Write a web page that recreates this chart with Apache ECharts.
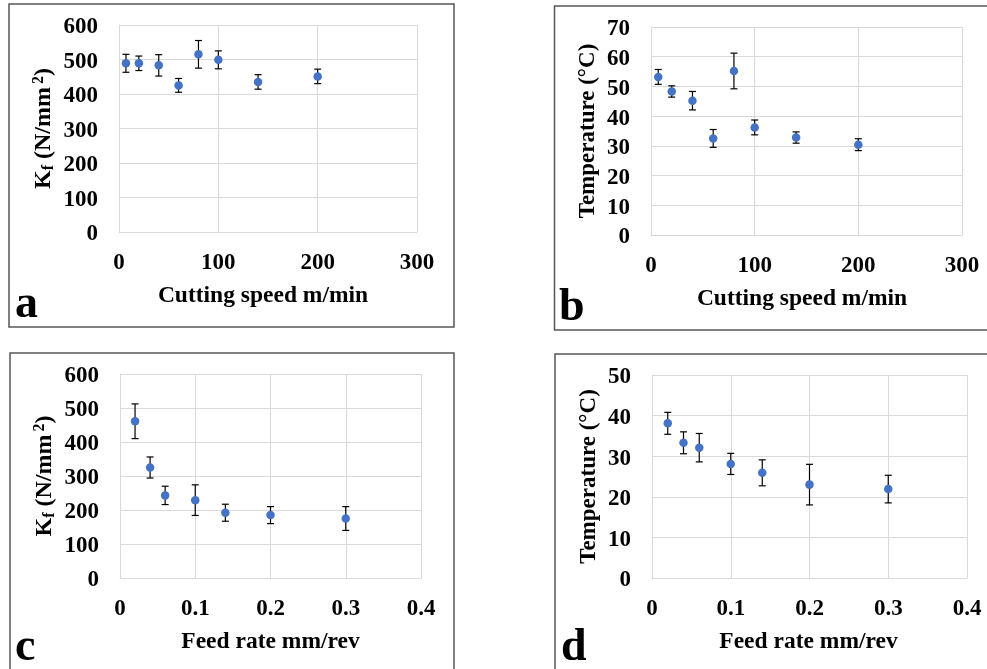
<!DOCTYPE html>
<html>
<head>
<meta charset="utf-8">
<script src="https://cdn.jsdelivr.net/npm/echarts@6/dist/echarts.min.js"></script>
<style>
html,body{margin:0;padding:0;background:#fff;}
#c{width:987px;height:669px;}
</style>
</head>
<body>
<div id="c"></div>
<script>
// ---- data ----
const xSpeed = [7, 20, 40, 60, 80, 100, 140, 200];
const kfSpeed = [489, 489, 483, 425, 515, 499, 435, 451];
const kfSpeedErr = [26, 21, 31, 20, 40, 26, 21, 21];
const tempSpeed = [53.2, 48.3, 45.2, 32.5, 55.2, 36.2, 32.8, 30.4];
const tempSpeedErr = [2.5, 1.9, 3.1, 3.0, 6.0, 2.5, 1.9, 2.0];

const xFeed = [0.02, 0.04, 0.06, 0.1, 0.14, 0.2, 0.3];
const kfFeed = [461, 325, 243, 229, 192, 185, 175];
const kfFeedErr = [51, 31, 27, 45, 25, 25, 35];
const tempFeed = [38.1, 33.3, 32.1, 28.1, 25.9, 23.0, 21.9];
const tempFeedErr = [2.7, 2.7, 3.5, 2.6, 3.2, 5.0, 3.4];

const xSpeedAxis = {min: 0, max: 300, interval: 100};
const xFeedAxis = {min: 0, max: 0.4, interval: 0.1};
const kfAxis = {min: 0, max: 600, interval: 100};
const tempSpeedAxis = {min: 0, max: 70, interval: 10};
const tempFeedAxis = {min: 0, max: 50, interval: 10};

const xTitleSpeed = 'Cutting speed m/min';
const xTitleFeed = 'Feed rate mm/rev';
const tempTitle = 'Temperature (°C)';
const panelLetters = ['a', 'b', 'c', 'd'];

// ---- styling ----
const FONT = "'Liberation Serif', 'Times New Roman', serif";
const GRIDC = '#d9d9d9';
const DOT = '#4472C4';

const chart = echarts.init(document.getElementById('c'), null, {renderer: 'canvas'});

const grids = [
  {left: 119, top: 25, width: 298, height: 207},
  {left: 651, top: 27, width: 311, height: 208},
  {left: 120, top: 374, width: 301, height: 204},
  {left: 652, top: 375, width: 315, height: 203}
];

function xAxisOf(idx, ax, title, shiftLeft) {
  return Object.assign({
    gridIndex: idx, type: 'value',
    name: title, nameLocation: 'middle', nameGap: 52,
    nameTextStyle: {fontFamily: FONT, fontWeight: 'bold', fontSize: 23.5, color: '#000',
      padding: [0, shiftLeft * 2, 0, 0]},
    axisLine: {show: true, lineStyle: {color: GRIDC, width: 1}},
    axisTick: {show: false},
    axisLabel: {fontFamily: FONT, fontWeight: 'bold', fontSize: 23, color: '#000', margin: 20},
    splitLine: {show: true, lineStyle: {color: GRIDC, width: 1}}
  }, ax);
}
function yAxisOf(idx, ax, name, gap, rich) {
  const o = Object.assign({
    gridIndex: idx, type: 'value',
    name: name, nameLocation: 'middle', nameGap: gap,
    nameTextStyle: {fontFamily: FONT, fontWeight: 'bold', fontSize: 23, color: '#000'},
    axisLine: {show: true, lineStyle: {color: GRIDC, width: 1}},
    axisTick: {show: false},
    axisLabel: {fontFamily: FONT, fontWeight: 'bold', fontSize: 23, color: '#000', margin: 21,
      verticalAlign: 'top', lineHeight: 5},
    splitLine: {show: true, lineStyle: {color: GRIDC, width: 1}}
  }, ax);
  if (rich) o.nameTextStyle.rich = rich;
  return o;
}

const kfRich = {
  n: {fontFamily: FONT, fontWeight: 'bold', fontSize: 24, color: '#000'},
  sub: {fontFamily: FONT, fontWeight: 'bold', fontSize: 16, color: '#000', padding: [10, 0, 0, 0]},
  sup: {fontFamily: FONT, fontWeight: 'bold', fontSize: 16, color: '#000', padding: [0, 0, 10, 3]}
};
const kfName = '{n|K}{sub|f}{n| (N/mm}{sup|2}{n|)}';

function errSeries(idx, xs, ys, es) {
  return {
    type: 'custom', xAxisIndex: idx, yAxisIndex: idx, z: 2,
    data: xs.map((x, i) => [x, ys[i], es[i]]),
    renderItem: function (params, api) {
      const x = api.value(0), y = api.value(1), e = api.value(2);
      const t = api.coord([x, y + e]);
      const b = api.coord([x, y - e]);
      const w = 3.5;
      const st = {stroke: '#000', lineWidth: 1.2};
      return {
        type: 'group',
        children: [
          {type: 'line', shape: {x1: t[0], y1: t[1], x2: b[0], y2: b[1]}, style: st},
          {type: 'line', shape: {x1: t[0] - w, y1: t[1], x2: t[0] + w, y2: t[1]}, style: st},
          {type: 'line', shape: {x1: b[0] - w, y1: b[1], x2: b[0] + w, y2: b[1]}, style: st}
        ]
      };
    }
  };
}
function dotSeries(idx, xs, ys) {
  return {
    type: 'scatter', xAxisIndex: idx, yAxisIndex: idx, z: 3,
    symbolSize: 8.5, itemStyle: {color: DOT, opacity: 1},
    data: xs.map((x, i) => [x, ys[i]])
  };
}

const borders = [
  {x: 9, y: 4, w: 445, h: 323},
  {x: 554.5, y: 6, w: 445, h: 324},
  {x: 10, y: 353, w: 444, h: 330},
  {x: 555, y: 354, w: 445, h: 330}
];
const letterPos = [[15, 305], [559, 308], [15, 648], [561, 648]];

const graphic = [];
borders.forEach(b => graphic.push({
  type: 'rect', shape: {x: b.x, y: b.y, width: b.w, height: b.h},
  style: {fill: 'none', stroke: '#555', lineWidth: 1.5}, silent: true, z: 10
}));
panelLetters.forEach((L, i) => graphic.push({
  type: 'text', x: letterPos[i][0], y: letterPos[i][1], z: 11,
  style: {text: L, font: 'bold 46px ' + FONT, fill: '#000', align: 'left', verticalAlign: 'middle'}
}));

chart.setOption({
  animation: false,
  backgroundColor: '#fff',
  grid: grids,
  xAxis: [
    xAxisOf(0, xSpeedAxis, xTitleSpeed, 5),
    xAxisOf(1, xSpeedAxis, xTitleSpeed, 4.5),
    xAxisOf(2, xFeedAxis, xTitleFeed, 0),
    xAxisOf(3, xFeedAxis, xTitleFeed, 1)
  ],
  yAxis: [
    yAxisOf(0, kfAxis, kfName, 62, kfRich),
    yAxisOf(1, tempSpeedAxis, tempTitle, 51),
    yAxisOf(2, kfAxis, kfName, 62, kfRich),
    yAxisOf(3, tempFeedAxis, tempTitle, 51)
  ],
  series: [
    errSeries(0, xSpeed, kfSpeed, kfSpeedErr), dotSeries(0, xSpeed, kfSpeed),
    errSeries(1, xSpeed, tempSpeed, tempSpeedErr), dotSeries(1, xSpeed, tempSpeed),
    errSeries(2, xFeed, kfFeed, kfFeedErr), dotSeries(2, xFeed, kfFeed),
    errSeries(3, xFeed, tempFeed, tempFeedErr), dotSeries(3, xFeed, tempFeed)
  ],
  graphic: graphic
});
</script>
</body>
</html>
